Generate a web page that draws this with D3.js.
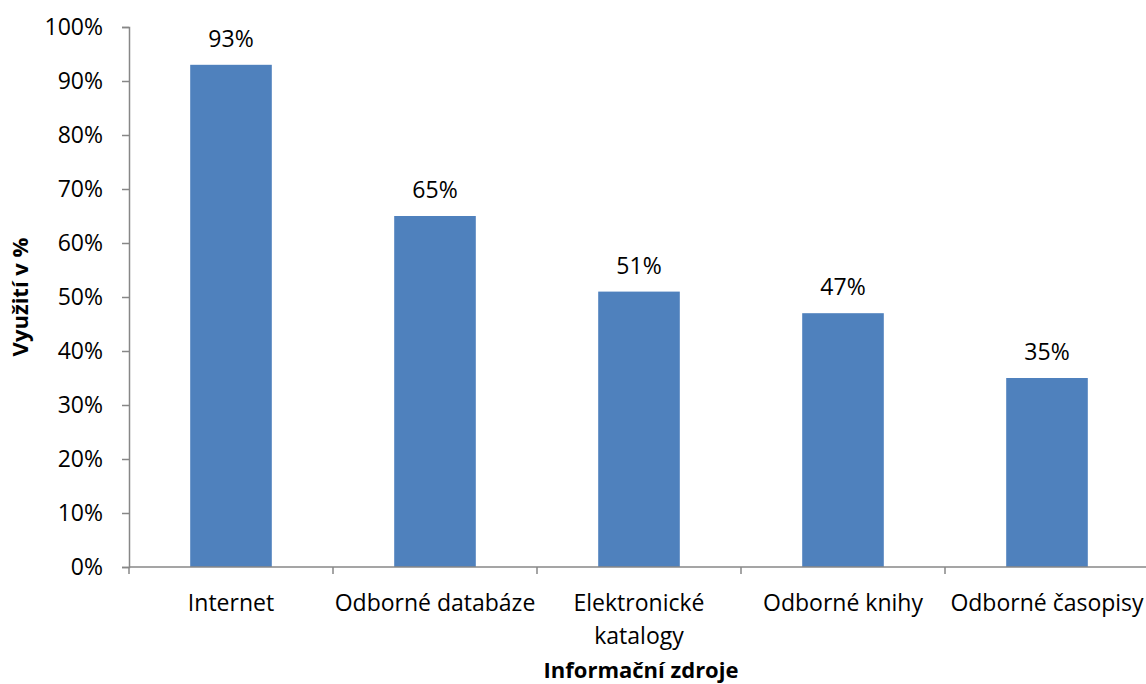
<!DOCTYPE html>
<html>
<head>
<meta charset="utf-8">
<script src="https://cdn.jsdelivr.net/npm/d3@7"></script>
<style>
  html, body { margin: 0; padding: 0; background: #fff; }
  svg { display: block; }
  text { font-family: "Open Sans", "Noto Sans", sans-serif; fill: #000; }
</style>
</head>
<body>
<svg id="chart" width="1146" height="684"></svg>
<script>
// Share of respondents using each information source
const categories = [
  ["Internet"],
  ["Odborné databáze"],
  ["Elektronické", "katalogy"],
  ["Odborné knihy"],
  ["Odborné časopisy"]
];
const values = [0.93, 0.65, 0.51, 0.47, 0.35];
const yTicks = [0, 0.1, 0.2, 0.3, 0.4, 0.5, 0.6, 0.7, 0.8, 0.9, 1.0];
const yTitle = "Využití v %";
const xTitle = "Informační zdroje";

const svg = d3.select("#chart");
const plotLeft = 129, plotRight = 1149, plotTop = 27, plotBottom = 567;
const axisColor = "#878787";
const barColor = "#4F81BD";
const fontSize = 23;

const keys = categories.map(c => c.join(" "));
const x = d3.scaleBand().domain(keys).range([plotLeft, plotRight])
  .paddingInner(0.6).paddingOuter(0.3);
const y = d3.scaleLinear().domain([0, 1]).range([plotBottom, plotTop]);
const pct = d3.format(".0%");

// Bars
svg.append("g").selectAll("rect")
  .data(values)
  .join("rect")
  .attr("x", (d, i) => x(keys[i]))
  .attr("y", d => y(d))
  .attr("width", x.bandwidth())
  .attr("height", d => plotBottom - y(d))
  .attr("fill", barColor);

// Value labels
svg.append("g").selectAll("text")
  .data(values)
  .join("text")
  .attr("x", (d, i) => x(keys[i]) + x.bandwidth() / 2)
  .attr("y", d => y(d) - 18)
  .attr("text-anchor", "middle")
  .attr("font-size", fontSize)
  .text(d => pct(d));

// Y axis
const yAxis = svg.append("g").attr("transform", `translate(${plotLeft},0)`)
  .call(d3.axisLeft(y).tickValues(yTicks).tickFormat(pct).tickSizeOuter(0).tickSize(7).tickPadding(19));
yAxis.select(".domain").attr("stroke", axisColor).attr("stroke-width", 1.5);
yAxis.selectAll(".tick line").attr("stroke", axisColor).attr("stroke-width", 1.5);
yAxis.selectAll(".tick text").attr("font-size", fontSize).attr("fill", "#000")
  .attr("font-family", "Open Sans, sans-serif");

// X axis: boundary ticks between categories
const xAxisG = svg.append("g");
xAxisG.append("line")
  .attr("x1", plotLeft).attr("x2", plotRight).attr("y1", plotBottom).attr("y2", plotBottom)
  .attr("stroke", axisColor).attr("stroke-width", 1.5);
const step = x.step();
const boundaries = d3.range(keys.length + 1).map(i => plotLeft + i * step);
xAxisG.selectAll("line.tk")
  .data(boundaries)
  .join("line")
  .attr("class", "tk")
  .attr("x1", d => d).attr("x2", d => d)
  .attr("y1", plotBottom).attr("y2", plotBottom + 7)
  .attr("stroke", axisColor).attr("stroke-width", 1.5);

// Category labels
const catLabels = svg.append("g").selectAll("text")
  .data(categories)
  .join("text")
  .attr("x", (d, i) => x(keys[i]) + x.bandwidth() / 2)
  .attr("y", 611)
  .attr("text-anchor", "middle")
  .attr("font-size", fontSize);
catLabels.selectAll("tspan")
  .data(d => d)
  .join("tspan")
  .attr("x", function () { return d3.select(this.parentNode).attr("x"); })
  .attr("dy", (d, i) => i === 0 ? 0 : 33)
  .text(d => d);

// Axis titles
svg.append("text")
  .attr("x", 641).attr("y", 678)
  .attr("text-anchor", "middle")
  .attr("font-size", 22).attr("font-weight", "bold")
  .text(xTitle);

svg.append("text")
  .attr("transform", `translate(28,297) rotate(-90)`)
  .attr("text-anchor", "middle")
  .attr("font-size", 22).attr("font-weight", "bold")
  .text(yTitle);
</script>
</body>
</html>
